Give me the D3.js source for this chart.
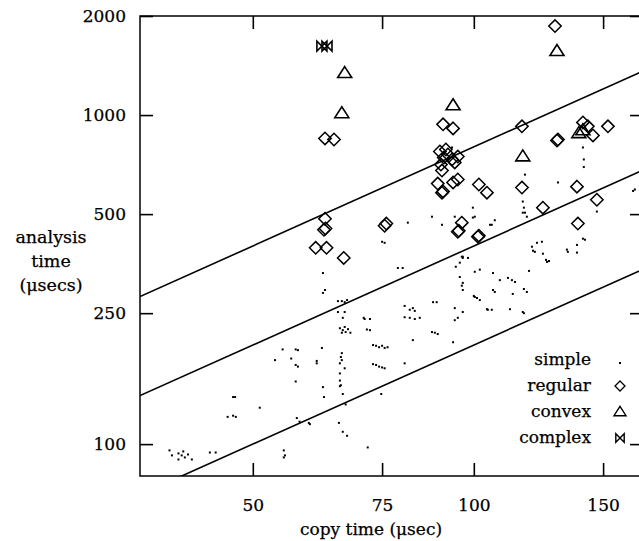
<!DOCTYPE html>
<html>
<head>
<meta charset="utf-8">
<script src="https://cdn.jsdelivr.net/npm/d3@7"></script>
<style>
  body { margin: 0; background: #fff; }
  text { font-family: "DejaVu Serif", serif; fill: #000; stroke: #000; stroke-width: 0.25px; }
</style>
</head>
<body>
<div id="chart"></div>
<script>
// tick values and reference lines (analysis = k * copy)
const xTicks = [50, 75, 100, 150];
const yTicks = [100, 250, 500, 1000, 2000];
const lineRatios = [2, 4, 8];

const legendNames = ["simple", "regular", "convex", "complex"];

// [copy time, analysis time]
const complexPts = [[62.1, 1620], [63.1, 1620]];

const convexPts = [
  [66.7, 1340], [66.1, 1012], [93.7, 1070], [116.6, 748], [129.8, 1564],
  [139.0, 880], [140.8, 898]
];

const regularPts = [
  [129.0, 1864], [90.8, 937], [93.7, 911], [116.3, 924], [129.8, 837], [130.2, 843],
  [140.8, 950], [143.0, 924], [145.3, 867], [152.3, 924],
  [89.9, 775], [91.0, 743], [92.2, 759], [93.4, 733], [94.2, 718], [90.2, 707],
  [91.6, 786], [95.1, 748], [90.5, 678], [89.3, 619], [90.5, 581], [90.8, 586],
  [93.7, 624], [95.1, 637], [101.6, 615], [104.2, 581], [116.3, 602], [124.2, 523],
  [138.2, 606], [147.1, 553], [138.6, 468], [96.3, 471], [95.1, 442], [95.4, 445],
  [101.3, 427], [101.6, 430], [75.6, 461], [76.0, 468], [62.7, 484], [62.5, 448],
  [62.8, 452], [60.9, 395], [63.0, 395], [66.5, 368], [62.7, 849], [64.5, 843]
];

const simplePts = [
  [54.9, 194], [57.2, 194], [57.6, 193], [56.4, 182], [53.6, 180], [57.2, 174],
  [57.6, 172], [57.2, 155], [61.1, 179], [61.1, 176], [47.0, 139], [47.3, 139],
  [51.1, 129], [46.2, 121], [47.0, 122], [47.4, 121], [57.4, 120], [57.9, 117],
  [59.8, 115], [38.5, 95.7], [38.8, 92.4], [39.6, 93.7], [40.0, 92.4], [40.2, 95.0],
  [40.4, 91.1], [40.8, 93.0], [41.3, 89.8], [39.6, 89.8], [43.7, 94.3], [44.5, 94.3],
  [55.1, 95.7], [55.3, 92.4], [55.1, 91.1],
  [75.0, 412], [75.6, 409], [62.3, 331], [62.7, 294], [62.3, 288], [65.3, 272],
  [66.1, 272], [66.7, 270], [78.8, 343], [80.0, 343], [94.5, 346], [95.7, 356],
  [96.6, 368], [100.3, 334], [101.9, 339], [100.3, 280], [100.0, 282], [101.0, 278],
  [65.3, 252], [66.7, 252], [66.3, 242], [65.7, 225], [66.3, 222], [66.9, 219],
  [67.4, 223.5], [66.1, 218], [66.7, 227], [67.9, 218], [71.0, 240], [72.2, 240],
  [71.5, 223], [72.2, 222], [80.5, 263], [81.8, 256], [82.6, 259], [83.1, 254],
  [80.5, 243], [81.8, 242], [83.1, 240], [84.4, 242], [72.9, 200], [73.6, 199],
  [74.3, 197], [75.0, 199], [75.6, 196], [72.9, 175], [73.6, 174], [74.3, 172],
  [75.0, 171], [75.6, 170], [87.7, 219], [88.5, 218], [89.3, 216], [82.6, 207],
  [88.0, 270], [89.0, 270], [94.2, 259], [96.6, 252], [94.2, 238], [95.1, 242],
  [93.7, 204], [62.1, 196], [66.1, 189], [65.9, 184], [66.1, 180], [65.7, 176],
  [65.7, 164], [65.7, 156], [65.7, 150], [66.7, 170], [80.5, 176], [76.3, 197],
  [65.9, 151], [62.5, 139], [66.3, 142], [74.8, 142], [66.9, 132], [59.6, 116],
  [65.5, 116], [66.3, 109], [67.2, 106], [71.7, 97.7], [62.3, 149], [67.2, 274],
  [70.8, 242],
  [100.3, 491], [105.8, 464], [106.8, 479], [117.4, 505], [118.1, 491], [120.0, 398],
  [121.9, 409], [123.8, 412], [121.1, 384], [120.4, 387], [125.8, 358], [126.6, 360],
  [124.2, 379], [133.9, 390], [134.3, 384], [138.2, 403], [138.2, 382], [140.8, 421],
  [141.7, 418], [118.9, 336], [106.2, 331], [108.5, 315], [112.7, 315], [113.8, 311],
  [106.2, 294], [106.8, 290], [117.0, 296], [118.1, 290], [113.0, 286], [101.9, 274],
  [104.2, 257], [105.8, 256], [112.0, 257], [117.0, 250], [96.6, 371], [98.2, 368],
  [96.6, 309], [96.6, 294], [95.7, 322], [96.3, 303], [140.8, 797], [141.2, 733],
  [141.2, 695], [130.2, 624], [165.7, 594], [164.8, 588], [147.1, 509], [117.4, 659],
  [116.6, 546], [116.6, 505], [117.0, 523], [99.7, 523], [87.7, 491], [90.5, 464],
  [94.2, 491], [99.7, 488], [105.2, 464], [93.4, 797], [81.3, 471], [96.3, 371],
  [125.4, 363], [111.3, 320], [116.6, 252], [104.5, 256]
];

const width = 639, height = 541;
const plotL = 140, plotR = 643, plotT = 16, plotB = 476;

const svg = d3.select("#chart").append("svg")
  .attr("width", width)
  .attr("height", height);

const x = d3.scaleLog().domain([35.1, 170]).range([plotL, plotR]);
const y = d3.scaleLog().domain([80, 2000]).range([plotB, plotT]);

svg.append("defs").append("clipPath").attr("id", "plot")
  .append("rect")
  .attr("x", plotL).attr("y", plotT)
  .attr("width", plotR - plotL).attr("height", plotB - plotT);

// ticks pointing into the frame on all four sides
const tickLen = 13;
svg.append("g")
  .attr("transform", `translate(${plotL},0)`)
  .call(d3.axisLeft(y).tickValues(yTicks).tickSizeInner(-tickLen).tickSizeOuter(0).tickPadding(14).tickFormat(d3.format("d")));
svg.append("g")
  .attr("transform", `translate(${plotR},0)`)
  .call(d3.axisRight(y).tickValues(yTicks).tickSizeInner(-tickLen).tickSizeOuter(0).tickFormat(""));
svg.append("g")
  .attr("transform", `translate(0,${plotB})`)
  .call(d3.axisBottom(x).tickValues(xTicks).tickSizeInner(-tickLen).tickSizeOuter(0).tickPadding(23).tickFormat(d3.format("d")));
svg.append("g")
  .attr("transform", `translate(0,${plotT})`)
  .call(d3.axisTop(x).tickValues(xTicks).tickSizeInner(-tickLen).tickSizeOuter(0).tickFormat(""));

svg.selectAll(".domain").remove();
svg.selectAll(".tick line").attr("stroke", "#000").attr("stroke-width", 1.6);
svg.selectAll(".tick text")
  .style("font-family", "'DejaVu Serif', serif")
  .style("font-size", "17px")
  .attr("fill", "#000");

svg.append("rect")
  .attr("x", plotL).attr("y", plotT)
  .attr("width", plotR - plotL).attr("height", plotB - plotT)
  .attr("fill", "none")
  .attr("stroke", "#000")
  .attr("stroke-width", 1.5);

// axis titles
svg.append("text")
  .attr("x", 371).attr("y", 535)
  .attr("text-anchor", "middle")
  .style("font-size", "17px")
  .text("copy time (μsec)");

svg.selectAll(".ylab")
  .data(["analysis", "time", "(μsecs)"])
  .enter().append("text")
  .attr("class", "ylab")
  .attr("x", 51)
  .attr("y", (d, i) => 243 + i * 24)
  .attr("text-anchor", "middle")
  .style("font-size", "17.5px")
  .text(d => d);

const plot = svg.append("g").attr("clip-path", "url(#plot)");

// reference lines
const xd = x.domain();
plot.selectAll(".ref")
  .data(lineRatios)
  .enter().append("line")
  .attr("class", "ref")
  .attr("x1", x(xd[0])).attr("y1", k => y(k * xd[0]))
  .attr("x2", x(xd[1])).attr("y2", k => y(k * xd[1]))
  .attr("stroke", "#000")
  .attr("stroke-width", 1.6);

// marker shapes
const diamond = s => `M0,${-s}L${s},0L0,${s}L${-s},0Z`;
const triangle = s => `M0,${-s * 0.95}L${s},${s * 0.62}L${-s},${s * 0.62}Z`;
const bowtie = s => `M${-s},${-s}L${-s},${s}L${s},${-s}L${s},${s}Z`;

plot.selectAll(".simple")
  .data(simplePts)
  .enter().append("rect")
  .attr("class", "simple")
  .attr("x", d => x(d[0]) - 1)
  .attr("y", d => y(d[1]) - 1)
  .attr("width", 2).attr("height", 2)
  .attr("fill", "#000");

plot.selectAll(".regular")
  .data(regularPts)
  .enter().append("path")
  .attr("class", "regular")
  .attr("d", diamond(6.2))
  .attr("transform", d => `translate(${x(d[0])},${y(d[1])})`)
  .attr("fill", "none")
  .attr("stroke", "#000")
  .attr("stroke-width", 1.5);

plot.selectAll(".convex")
  .data(convexPts)
  .enter().append("path")
  .attr("class", "convex")
  .attr("d", triangle(7))
  .attr("transform", d => `translate(${x(d[0])},${y(d[1])})`)
  .attr("fill", "none")
  .attr("stroke", "#000")
  .attr("stroke-width", 1.6);

plot.selectAll(".complex")
  .data(complexPts)
  .enter().append("path")
  .attr("class", "complex")
  .attr("d", bowtie(5))
  .attr("transform", d => `translate(${x(d[0])},${y(d[1])})`)
  .attr("fill", "none")
  .attr("stroke", "#000")
  .attr("stroke-width", 1.6);

// legend
const legend = svg.append("g");
const rowY = i => 359 + i * 26;
legend.selectAll("text")
  .data(legendNames)
  .enter().append("text")
  .attr("x", 591)
  .attr("y", (d, i) => rowY(i) + 6)
  .attr("text-anchor", "end")
  .style("font-size", "17px")
  .text(d => d);

const sx = 620;
legend.append("rect")
  .attr("x", sx - 1).attr("y", rowY(0) + 3)
  .attr("width", 2).attr("height", 2)
  .attr("fill", "#000");
legend.append("path")
  .attr("d", diamond(5))
  .attr("transform", `translate(${sx},${rowY(1) + 1})`)
  .attr("fill", "none").attr("stroke", "#000").attr("stroke-width", 1.3);
legend.append("path")
  .attr("d", triangle(6))
  .attr("transform", `translate(${sx},${rowY(2) + 1})`)
  .attr("fill", "none").attr("stroke", "#000").attr("stroke-width", 1.4);
legend.append("path")
  .attr("d", bowtie(4.2))
  .attr("transform", `translate(${sx},${rowY(3) + 1})`)
  .attr("fill", "none").attr("stroke", "#000").attr("stroke-width", 1.4);
</script>
</body>
</html>
